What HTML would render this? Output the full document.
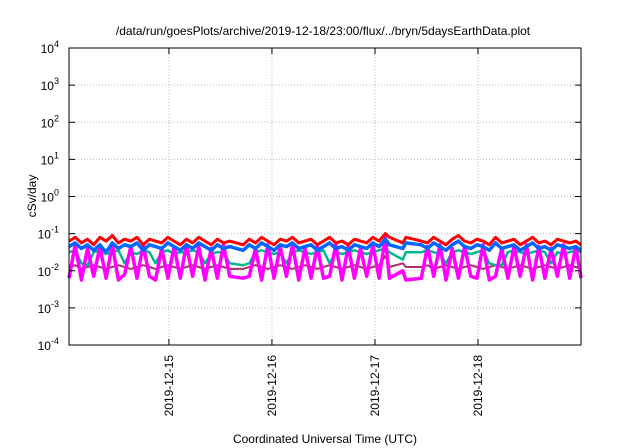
<!DOCTYPE html>
<html><head><meta charset="utf-8"><style>
body{margin:0;background:#fff}
svg{display:block;font-family:"Liberation Sans",sans-serif}
</style></head><body>
<svg id="chart" width="640" height="448" viewBox="0 0 640 448">
<text x="323" y="35" text-anchor="middle" font-size="12">/data/run/goesPlots/archive/2019-12-18/23:00/flux/../bryn/5daysEarthData.plot</text>
<text transform="translate(36,196) rotate(-90)" text-anchor="middle" font-size="12">cSv/day</text>
<text x="325" y="443" text-anchor="middle" font-size="12">Coordinated Universal Time (UTC)</text>
<g id="grid"></g><g id="series"></g><g id="axes"></g>
</svg>
<script>
const dayTicks=[15,16,17,18];
const tickLabels=["2019-12-15","2019-12-16","2019-12-17","2019-12-18"];
const yExps=[-4,-3,-2,-1,0,1,2,3,4];
const times=[14.03,14.09,14.15,14.21,14.27,14.33,14.39,14.45,14.51,14.57,14.63,14.69,14.75,14.81,14.87,14.93,14.99,15.05,15.11,15.17,15.23,15.29,15.35,15.41,15.47,15.53,15.59,
15.72,15.78,15.84,15.90,15.96,16.02,16.08,16.14,16.20,16.26,16.32,16.38,16.44,16.50,16.56,16.62,16.68,16.74,16.80,16.86,16.92,16.98,17.04,17.10,17.14,
17.27,17.30,
17.45,17.51,17.57,17.63,17.69,17.75,17.81,17.87,17.93,17.99,18.05,18.11,18.17,18.23,18.29,18.35,18.41,18.47,18.53,18.59,18.65,18.71,18.77,18.83,18.89,18.95,19.0];
const brownLog=[-1.9,-1.85,-1.95,-1.9,-1.85,-1.9,-1.95,-1.9,-1.85,-1.9,-1.95,-1.9,-1.85,-1.9,-1.95,-1.9,-1.85,-1.9,-1.95,-1.9,-1.85,-1.9,-1.95,-1.9,-1.85,-1.9,-1.95,
-1.95,-1.9,-1.85,-1.9,-1.95,-1.9,-1.85,-1.9,-1.95,-1.9,-1.85,-1.9,-1.95,-1.9,-1.85,-1.9,-1.95,-1.9,-1.85,-1.9,-1.95,-1.9,-1.85,-1.6,-1.9,
-1.8,-1.9,
-1.9,-1.85,-1.95,-1.9,-1.85,-1.9,-1.95,-1.9,-1.85,-1.9,-1.95,-1.9,-1.85,-1.9,-1.95,-1.9,-1.85,-1.9,-1.95,-1.9,-1.85,-1.9,-1.95,-1.9,-1.85,-1.9,-1.95];
const tealLog=[-1.5,-1.45,-1.8,-1.85,-1.5,-1.45,-1.55,-1.5,-1.45,-1.8,-1.5,-1.55,-1.45,-1.5,-1.8,-1.5,-1.45,-1.55,-1.5,-1.5,-1.45,-1.5,-1.8,-1.55,-1.5,-1.5,-1.8,
-1.85,-1.8,-1.5,-1.45,-1.5,-1.55,-1.5,-1.8,-1.5,-1.45,-1.5,-1.55,-1.5,-1.45,-1.8,-1.5,-1.55,-1.5,-1.45,-1.5,-1.55,-1.5,-1.45,-1.4,-1.5,
-1.7,-1.5,
-1.5,-1.45,-1.5,-1.55,-1.8,-1.5,-1.45,-1.5,-1.55,-1.5,-1.45,-1.8,-1.85,-1.85,-1.5,-1.45,-1.5,-1.55,-1.5,-1.45,-1.5,-1.8,-1.5,-1.55,-1.5,-1.45,-1.5];
const magentaLog=[-2.2,-1.3,-2.25,-1.4,-2.15,-1.35,-2.2,-1.3,-2.25,-2.1,-1.35,-2.2,-1.3,-2.15,-2.25,-1.4,-2.2,-1.35,-2.2,-1.3,-2.15,-1.35,-2.25,-1.4,-2.2,-1.3,-2.15,
-2.2,-2.15,-1.4,-2.25,-1.3,-2.2,-1.35,-2.15,-1.3,-2.25,-1.4,-2.2,-1.35,-2.2,-2.15,-1.3,-2.25,-1.35,-2.2,-1.4,-2.15,-1.3,-2.2,-1.1,-2.2,
-2.0,-2.25,
-2.2,-1.35,-2.15,-1.3,-2.25,-1.4,-2.2,-1.35,-2.15,-2.2,-1.3,-2.25,-2.15,-1.4,-2.2,-1.35,-2.15,-1.3,-2.25,-1.35,-2.2,-1.4,-2.15,-1.3,-2.2,-1.35,-2.2];
const redLog=[-1.2,-1.1,-1.25,-1.15,-1.3,-1.1,-1.2,-1.05,-1.25,-1.15,-1.2,-1.1,-1.3,-1.15,-1.2,-1.25,-1.1,-1.2,-1.3,-1.15,-1.25,-1.1,-1.2,-1.3,-1.15,-1.25,-1.2,
-1.3,-1.15,-1.25,-1.1,-1.2,-1.3,-1.15,-1.2,-1.1,-1.25,-1.2,-1.15,-1.3,-1.2,-1.1,-1.25,-1.2,-1.3,-1.15,-1.2,-1.25,-1.1,-1.2,-1.0,-1.1,
-1.25,-1.1,
-1.2,-1.25,-1.1,-1.2,-1.3,-1.15,-1.05,-1.2,-1.25,-1.15,-1.2,-1.3,-1.1,-1.25,-1.2,-1.15,-1.3,-1.2,-1.1,-1.25,-1.2,-1.3,-1.15,-1.2,-1.25,-1.2,-1.3];
const blueLog=[-1.35,-1.25,-1.4,-1.3,-1.45,-1.3,-1.5,-1.25,-1.4,-1.3,-1.35,-1.25,-1.45,-1.3,-1.35,-1.4,-1.25,-1.35,-1.45,-1.3,-1.4,-1.25,-1.35,-1.45,-1.3,-1.4,-1.35,
-1.45,-1.3,-1.4,-1.25,-1.35,-1.45,-1.3,-1.35,-1.25,-1.4,-1.35,-1.3,-1.45,-1.35,-1.25,-1.4,-1.35,-1.45,-1.3,-1.35,-1.4,-1.25,-1.35,-1.15,-1.3,
-1.4,-1.25,
-1.3,-1.4,-1.25,-1.35,-1.45,-1.3,-1.2,-1.35,-1.4,-1.3,-1.35,-1.45,-1.25,-1.4,-1.35,-1.3,-1.45,-1.35,-1.25,-1.4,-1.35,-1.45,-1.3,-1.35,-1.4,-1.35,-1.45];

const L=69,R=581,T=48,B=345,X0=14.03,X1=19.0;
const xs=d=>L+(d-X0)/(X1-X0)*(R-L);
const ys=e=>B-(e+4)/8*(B-T);
const NS="http://www.w3.org/2000/svg";
function mk(tag,attrs,parent){const el=document.createElementNS(NS,tag);for(const k in attrs)el.setAttribute(k,attrs[k]);parent.appendChild(el);return el;}
const grid=document.getElementById('grid'),ser=document.getElementById('series'),ax=document.getElementById('axes');
yExps.forEach(e=>{
  const y=ys(e);
  if(e>-4&&e<4){const g=mk('line',{x1:L,x2:R,y1:y,y2:y,stroke:'#bbb','stroke-dasharray':'1,2','stroke-width':1},grid);
  
  }
  const t1=mk('line',{x1:L,x2:L+6,y1:y,y2:y,stroke:'#000'},ax);
  
  
  const t2=mk('line',{x1:R-6,x2:R,y1:y,y2:y,stroke:'#000'},ax);
  
  
  const tx=mk('text',{x:59,y:y+5,'text-anchor':'end','font-size':12},ax);
  
  
  tx.innerHTML='10<tspan dy="-6" font-size="9">'+e+'</tspan>';
});
dayTicks.forEach((d,i)=>{
  const x=xs(d);
  const g=mk('line',{x1:x,x2:x,y1:T,y2:B,stroke:'#bbb','stroke-dasharray':'1,2'},grid);
  
  
  const t1=mk('line',{x1:x,x2:x,y1:B-6,y2:B,stroke:'#000'},ax);
  
  
  const t2=mk('line',{x1:x,x2:x,y1:T,y2:T+6,stroke:'#000'},ax);
  
  
  const tx=mk('text',{transform:`translate(${x+4},355) rotate(-90)`,'text-anchor':'end','font-size':12},ax);
  
  
  tx.textContent=tickLabels[i];
});
const frame=mk('rect',{x:L,y:T,width:R-L,height:B-T,fill:'none',stroke:'#000','stroke-width':1},ax);


const seriesList=[[brownLog,'#b0306a',2,'brown-series'],[tealLog,'#00b890',2.5,'teal-series'],[magentaLog,'#ff00ff',3.5,'magenta-series'],[redLog,'#ff0000',3,'red-series'],[blueLog,'#0066ff',3.5,'blue-series']];
seriesList.forEach(([vals,col,w,name])=>{
  const pts=vals.map((v,i)=>xs(times[i]).toFixed(1)+','+ys(v).toFixed(1)).join(' ');
  const p=mk('polyline',{points:pts,fill:'none',stroke:col,'stroke-width':w,'stroke-linejoin':'round'},ser);
  
  
});
</script>
</body></html>
